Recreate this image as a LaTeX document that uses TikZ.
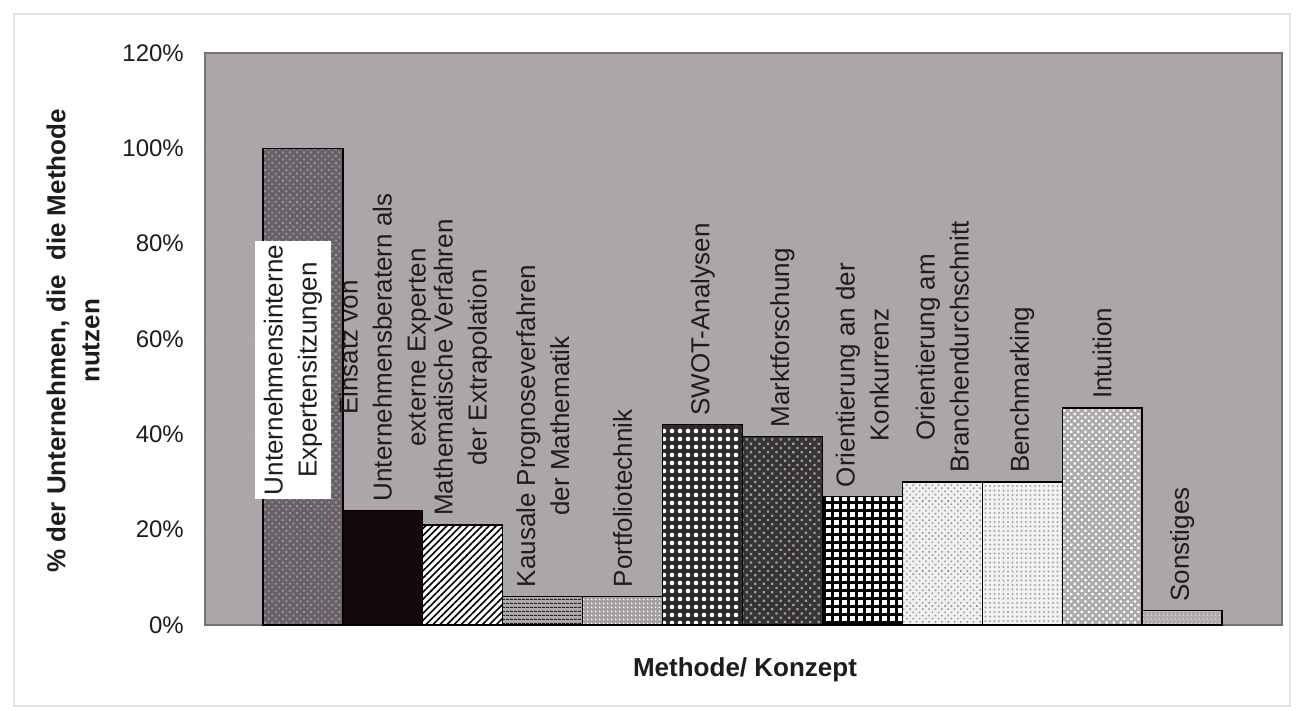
\documentclass[tikz,border=0pt]{standalone}
\usepackage{fontspec}
\setmainfont{Liberation Sans}
\usetikzlibrary{patterns.meta}

\definecolor{plotbg}{RGB}{170,166,169}
\definecolor{plotedge}{RGB}{118,115,118}
\definecolor{gridc}{RGB}{175,171,174}
\definecolor{frame}{RGB}{228,228,228}
\definecolor{ink}{RGB}{30,28,30}

\begin{document}
\begin{tikzpicture}[x=1pt,y=-1pt,
  ticklbl/.style={anchor=east,inner sep=0pt,font=\fontsize{24}{28}\selectfont,text=ink},
  axtitle/.style={inner sep=0pt,align=center,font=\fontsize{26}{34}\selectfont\bfseries,text=ink},
  barlbl/.style={rotate=90,anchor=west,inner sep=0pt,align=center,
    font=\fontsize{26}{34}\selectfont,text=ink},
  barline/.style={draw=black,line width=1.3pt},
  pat1/.style={fill={rgb,255:red,104;green,97;blue,103},
    postaction={pattern={Dots[distance=5pt,radius=1.3pt,angle=45]},pattern color={rgb,255:red,158;green,150;blue,156}}},
  pat2/.style={fill={rgb,255:red,20;green,10;blue,14}},
  pat3/.style={fill=white,
    postaction={pattern={Lines[angle=45,distance=5pt,line width=1.6pt]},pattern color=black}},
  pat4/.style={fill={rgb,255:red,175;green,170;blue,174},
    postaction={pattern={Lines[angle=0,distance=4pt,line width=1.3pt]},pattern color={rgb,255:red,40;green,36;blue,40}}},
  pat5/.style={fill={rgb,255:red,165;green,160;blue,164},
    postaction={pattern={Dots[distance=4pt,radius=1.1pt]},pattern color=white}},
  pat6/.style={fill={rgb,255:red,45;green,42;blue,45},
    postaction={pattern={Dots[distance=8pt,radius=2.3pt]},pattern color=white}},
  pat7/.style={fill={rgb,255:red,55;green,52;blue,56},
    postaction={pattern={Dots[distance=6pt,radius=1.6pt,angle=45]},pattern color={rgb,255:red,160;green,156;blue,160}}},
  pat8/.style={fill=white,
    postaction={pattern={Hatch[angle=0,distance=8pt,line width=3pt]},pattern color=black}},
  pat9/.style={fill={rgb,255:red,240;green,240;blue,240},
    postaction={pattern={Dots[distance=4.5pt,radius=1.1pt,angle=45]},pattern color={rgb,255:red,150;green,150;blue,150}}},
  pat10/.style={fill={rgb,255:red,242;green,242;blue,242},
    postaction={pattern={Dots[distance=4.5pt,radius=1.1pt]},pattern color={rgb,255:red,165;green,165;blue,165}}},
  pat11/.style={fill={rgb,255:red,172;green,170;blue,172},
    postaction={pattern={Dots[distance=5pt,radius=1.6pt,angle=45]},pattern color=white}},
  pat12/.style={fill={rgb,255:red,178;green,170;blue,175},
    postaction={pattern={Dots[distance=4pt,radius=1pt]},pattern color={rgb,255:red,220;green,215;blue,218}}},
]
% canvas
\useasboundingbox (0,0) rectangle (1296,711);
\fill[white] (0,0) rectangle (1296,711);
\draw[frame,line width=1.5pt] (14,14) rectangle (1290,706);

% plot area: 0% at y=625, 20% every 95.33
\fill[plotbg] (205,53) rectangle (1282,625);
\foreach \k in {1,...,5}
  \draw[gridc,line width=0.8pt] (205,{625-95.33*\k}) -- (1282,{625-95.33*\k});
\draw[plotedge,line width=1.5pt] (205,53) rectangle (1282,625);

% y tick labels
\foreach \k/\t in {0/0\%,1/20\%,2/40\%,3/60\%,4/80\%,5/100\%,6/120\%}
  \node[ticklbl] (tick\k) at (184,{625-95.33*\k}) {\t};

% bars: index / value in %
\foreach \i/\v in {1/100,2/24,3/21,4/6,5/6,6/42,7/39.5,8/27,9/30,10/30,11/45.5,12/3}{
  \pgfmathsetmacro{\xl}{263+79.92*(\i-1)}
  \pgfmathsetmacro{\xr}{263+79.92*\i}
  \pgfmathsetmacro{\yt}{625-4.7665*\v}
  \path[pat\i] (\xl,625) rectangle (\xr,\yt);
  \draw[barline] (\xl,625) rectangle (\xr,\yt);
  \coordinate (top\i) at ({(\xl+\xr)/2},{\yt-9});
}

% bar labels
\node[rotate=90,fill=white,inner xsep=4pt,inner ysep=9pt,align=center,
      font=\fontsize{26}{34}\selectfont,text=ink] (lbl1) at (293,370)
      {Unternehmensinterne\\Expertensitzungen};
\node[barlbl] (lbl2) at ([xshift=2pt]top2) {Einsatz von\\Unternehmensberatern als\\externe Experten};
\node[barlbl] (lbl3) at (top3) {Mathematische Verfahren\\der Extrapolation};
\node[barlbl] (lbl4) at (top4) {Kausale Prognoseverfahren\\der Mathematik};
\node[barlbl] (lbl5) at (top5) {Portfoliotechnik};
\node[barlbl] (lbl6) at (top6) {SWOT-Analysen};
\node[barlbl] (lbl7) at (top7) {Marktforschung};
\node[barlbl] (lbl8) at (top8) {Orientierung an der\\Konkurrenz};
\node[barlbl] (lbl9) at (top9) {Orientierung am\\Branchendurchschnitt};
\node[barlbl] (lbl10) at (top10) {Benchmarking};
\node[barlbl] (lbl11) at (top11) {Intuition};
\node[barlbl] (lbl12) at (top12) {Sonstiges};

% axis titles
\node[axtitle,rotate=90] (ytitle) at (73,341) {\% der Unternehmen, die\ \ die Methode\\nutzen};
\node[axtitle] (xtitle) at (745,670) {Methode/ Konzept};
\end{tikzpicture}
\end{document}
